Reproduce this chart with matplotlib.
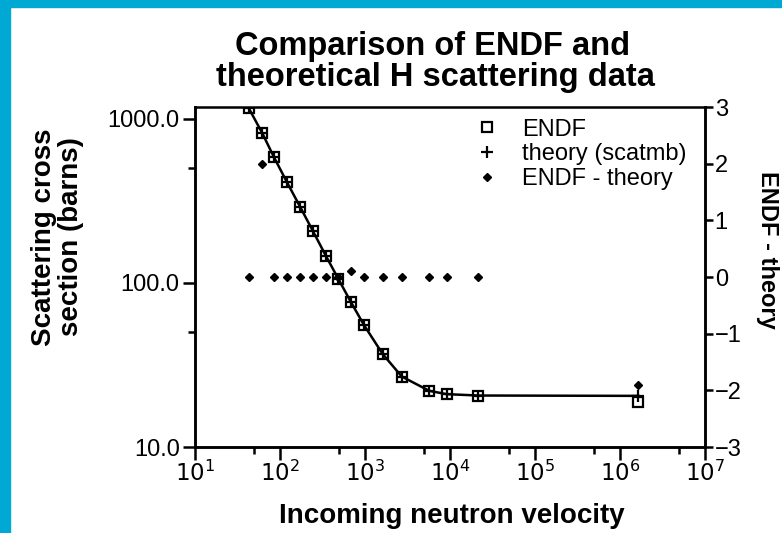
import matplotlib.pyplot as plt
import matplotlib.patches as patches
from matplotlib.ticker import FixedLocator, NullFormatter

plt.rcParams['font.family'] = ['Liberation Sans', 'DejaVu Sans']

# Data
velocity = [43, 62, 85, 121, 172, 243, 345, 485, 679, 973, 1614, 2704, 5705, 9140, 21500, 1.64e6]
endf = [1161, 818, 584, 411, 292, 208, 147, 106, 76.9, 55.4, 36.9, 26.9, 22.0, 21.0, 20.6, 18.7]
theory = [1161, 818, 584, 411, 292, 208, 147, 106, 76.9, 55.4, 36.9, 26.9, 22.0, 21.0, 20.6, 20.5]
diff = [0.0, 2.0, 0.0, 0.0, 0.0, 0.0, 0.0, 0.0, 0.1, 0.0, 0.0, 0.0, 0.0, 0.0, 0.0, -1.9]

x_ticks = [1e1, 1e2, 1e3, 1e4, 1e5, 1e6, 1e7]
x_labels = ['$10^1$', '$10^2$', '$10^3$', '$10^4$', '$10^5$', '$10^6$', '$10^7$']
y_ticks = [10, 100, 1000]
y_labels = ['10.0', '100.0', '1000.0']
r_ticks = [-3, -2, -1, 0, 1, 2, 3]
r_labels = ['\u22123', '\u22122', '\u22121', '0', '1', '2', '3']

W, H = 782, 533
fig = plt.figure(figsize=(W/100, H/100), dpi=100)
ax = fig.add_axes([195/W, 1-447/H, 510/W, 340/H])

# blue frame of the slide
blue = '#00a9d4'
fig.patches.append(patches.Rectangle((0, 1-7/H), 1, 7/H, transform=fig.transFigure, color=blue, zorder=0))
fig.patches.append(patches.Rectangle((0, 0), 10/W, 1, transform=fig.transFigure, color=blue, zorder=0))

ax.plot(velocity, theory, color='black', lw=1.8, zorder=2)
h1, = ax.plot(velocity, endf, linestyle='none', marker='s', markersize=6.5,
              markerfacecolor='none', markeredgecolor='black', markeredgewidth=1.6, zorder=3)
h2, = ax.plot(velocity, theory, linestyle='none', marker='+', markersize=9,
              color='black', markeredgewidth=1.6, zorder=4)

ax.set_xscale('log')
ax.set_yscale('log')
ax.set_xlim(1e1, 1e7)
ax.set_ylim(10, 10**3.073)

ax.xaxis.set_major_locator(FixedLocator(x_ticks))
ax.set_xticklabels(x_labels)
ax.xaxis.set_minor_locator(FixedLocator([5 * 10**k for k in range(1, 7)]))
ax.xaxis.set_minor_formatter(NullFormatter())
ax.yaxis.set_major_locator(FixedLocator(y_ticks))
ax.set_yticklabels(y_labels)
ax.yaxis.set_minor_locator(FixedLocator([50, 500]))
ax.yaxis.set_minor_formatter(NullFormatter())

ax.tick_params(which='major', direction='out', length=9, width=1.8, labelsize=17, pad=2)
ax.tick_params(which='minor', direction='out', length=5, width=1.8)
ax.tick_params(axis='x', which='major', labelsize=16.5, pad=1)

ax2 = ax.twinx()
h3, = ax2.plot(velocity, diff, linestyle='none', marker='D', markersize=4.5,
               color='black', zorder=3)
ax2.set_ylim(-3, 3)
ax2.set_yticks(r_ticks)
ax2.set_yticklabels(r_labels)
ax2.tick_params(direction='out', length=6, width=1.8, labelsize=17, pad=1)

for a in (ax, ax2):
    for s in a.spines.values():
        s.set_linewidth(1.8)
ax.spines['top'].set_visible(False)
ax2.spines['top'].set_visible(False)
ax.plot([0, 1], [1, 1], transform=ax.transAxes, color='black', lw=1.8, clip_on=False)

# axis titles and chart title placed like on the slide
fig.text(58/W, 1-237/H, 'Scattering cross\nsection (barns)', fontsize=20, fontweight='bold',
         rotation=90, ha='center', va='center', linespacing=1.05)
fig.text(452/W, 1-516/H, 'Incoming neutron velocity', fontsize=20, fontweight='bold',
         ha='center', va='center')
fig.text(768/W, 1-250/H, 'ENDF - theory', fontsize=17, fontweight='bold',
         rotation=-90, ha='center', va='center')
fig.text(433/W, 1-55/H, 'Comparison of ENDF and', fontsize=23.5, fontweight='bold',
         ha='center', va='baseline')
fig.text(435/W, 1-86/H, 'theoretical H scattering data', fontsize=23.5, fontweight='bold',
         ha='center', va='baseline')

ax.legend([h1, h2, h3], ['ENDF', 'theory (scatmb)', 'ENDF - theory'],
          loc='upper left', bbox_to_anchor=(0.549, 0.966), frameon=False, fontsize=17,
          handlelength=1.0, handletextpad=1.0, labelspacing=0.12, borderaxespad=0, borderpad=0)

fig.savefig('out.png', dpi=100)
